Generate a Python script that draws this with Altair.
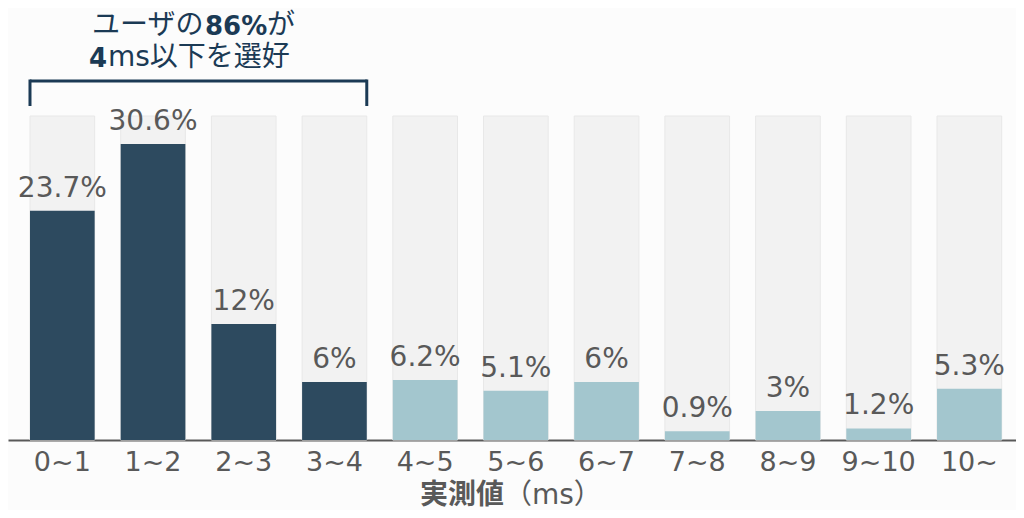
import altair as alt
import pandas as pd

# ---- data ----
categories = ["0~1", "1~2", "2~3", "3~4", "4~5", "5~6", "6~7", "7~8", "8~9", "9~10", "10~"]
shares = [23.7, 30.6, 12, 6, 6.2, 5.1, 6, 0.9, 3, 1.2, 5.3]
groups = ["le4"] * 4 + ["gt4"] * 7
bg_max = 33.5
bracket_from = ["0~1"]
bracket_to = ["3~4"]
title_line1 = ["ユーザの", "86%", "が"]
title_line2 = ["4", "ms以下を選好"]
axis_title = ["実測値", "（ms）"]

df = pd.DataFrame({"cat": categories, "share": shares, "grp": groups})
df["label"] = [f"{v:g}%" for v in shares]
df["bg"] = bg_max

W, H = 1008, 324
FONT = "DejaVu Sans, Noto Sans CJK JP"
NAVY = "#1b3a55"
GREY = "#595959"

xscale = alt.Scale(domain=categories, paddingInner=0.287, paddingOuter=0.2, align=0.606)
yscale = alt.Scale(domain=[0, bg_max], nice=False, zero=True)

xenc = alt.X(
    "cat:N", scale=xscale, sort=categories,
    axis=alt.Axis(title=None, labelAngle=0, labelFont=FONT, labelFontSize=27,
                  labelColor=GREY, ticks=False, domainColor=GREY, domainWidth=2,
                  labelPadding=9, grid=False),
)

base = alt.Chart(df)

bg = base.mark_bar(color="#f2f2f2", stroke="#e8e8e8", strokeWidth=1).encode(
    x=xenc, y=alt.Y("bg:Q", scale=yscale, axis=None)
)
bars = base.mark_bar().encode(
    x=xenc,
    y=alt.Y("share:Q", scale=yscale, axis=None),
    color=alt.Color("grp:N", scale=alt.Scale(domain=["le4", "gt4"], range=["#2d4a5f", "#a3c6ce"]), legend=None),
)
labels = base.mark_text(dy=-14, baseline="alphabetic", fontSize=28, color=GREY, font=FONT).encode(
    x=alt.X("cat:N", scale=xscale, sort=categories),
    y=alt.Y("share:Q", scale=yscale),
    text="label:N",
)

# bracket
bdf = pd.DataFrame({"a": bracket_from, "b": bracket_to})
bracket_h = alt.Chart(bdf).mark_rule(color=NAVY, strokeWidth=3).encode(
    x=alt.X("a:N", scale=xscale, bandPosition=0),
    x2=alt.X2("b:N", bandPosition=1),
    y=alt.value(-35),
)
bracket_l = alt.Chart(bdf).mark_rule(color=NAVY, strokeWidth=3).encode(
    x=alt.X("a:N", scale=xscale, bandPosition=0),
    y=alt.value(-36.5), y2=alt.value(-10),
)
bracket_r = alt.Chart(bdf).mark_rule(color=NAVY, strokeWidth=3).encode(
    x=alt.X("b:N", scale=xscale, bandPosition=1),
    y=alt.value(-36.5), y2=alt.value(-10),
)


def txt(s, x, y, align, bold=False, size=28, color=NAVY):
    return alt.Chart(pd.DataFrame({"t": [s]})).mark_text(
        align=align, baseline="middle", font=FONT, fontSize=size,
        fontWeight="bold" if bold else "normal", color=color,
    ).encode(text="t:N", x=alt.value(x), y=alt.value(y))


ann = [
    txt(title_line1[0], 195.5, -90, "right"),
    txt(title_line1[1], 197, -89, "left", bold=True, size=26),
    txt(title_line1[2], 259, -90, "left"),
    txt(title_line2[0], 99, -57, "right", bold=True, size=26),
    txt(title_line2[1], 100, -58, "left"),
    txt(axis_title[0], 496, 380, "right", bold=True, size=28, color=GREY),
    txt(axis_title[1], 496, 380, "left", size=28, color=GREY),
]

chart = alt.layer(bg, bars, labels, bracket_h, bracket_l, bracket_r, *ann).properties(
    width=W, height=H,
    autosize=alt.AutoSizeParams(type="none"),
    padding={"left": 0, "right": 0, "top": 108, "bottom": 70},
    background="#fcfcfc",
).configure_view(stroke=None)

chart.save("out.html", embed_options={"renderer": "svg", "actions": False})
